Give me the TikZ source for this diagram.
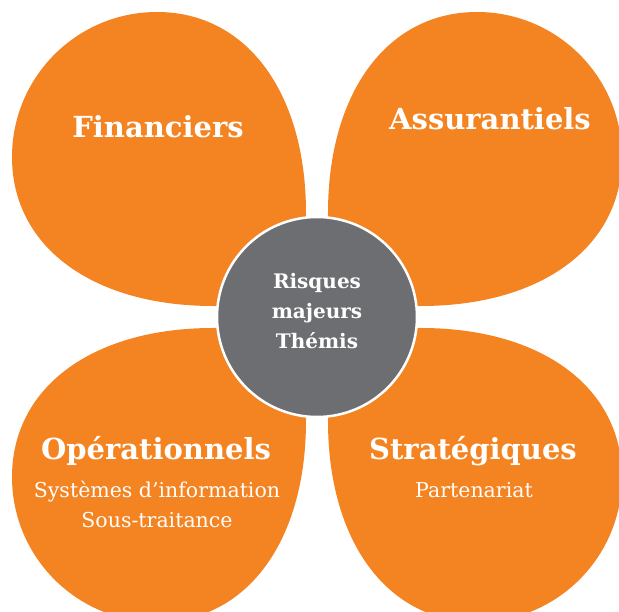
\documentclass[tikz,border=0pt]{standalone}
\usepackage{fontspec}
\setmainfont{DejaVu Serif}
\definecolor{petalorange}{RGB}{244,132,34}
\definecolor{coregray}{RGB}{109,110,113}
\tikzset{
  petal/.style={fill=petalorange},
  core/.style={circle, fill=coregray, draw=white, line width=2.5pt,
               minimum size=200pt, inner sep=0pt},
  title/.style={font=\bfseries\fontsize{29}{34}\selectfont, text=white, anchor=base},
  sub/.style={font=\fontsize{20.5}{30}\selectfont, text=white, anchor=base},
  coretxt/.style={font=\bfseries\fontsize{20}{30}\selectfont, text=white, align=center},
}
\begin{document}
\begin{tikzpicture}[x=1pt, y=1pt]
\useasboundingbox (-317,-295) rectangle (302,317);
\clip (-317,-295) rectangle (302,317);
% Petals (teardrop pointing to the centre, mirrored into the four quarters)
\foreach \sx/\sy in {1/1, -1/1, 1/-1, -1/-1} {
  \fill[petal, xscale=\sx, yscale=\sy]
    (-9,9) -- (-11,104) .. controls (-11,224) and (-70,305) .. (-160,305)
    arc[start angle=90, end angle=180, radius=145]
    .. controls (-305,70) and (-224,11) .. (-104,11) -- cycle;
}
% Centre
\node[core] (core) at (0,0) {};
\node[coretxt] (coretext) at (0,6) {Risques\\majeurs\\Thémis};
% Quarter titles
\node[title] (fin) at (-159,179) {Financiers};
\node[title] (ass) at (173,187) {Assurantiels};
\node[title] (ope) at (-161,-143) {Opérationnels};
\node[title] (str) at (156,-143) {Stratégiques};
% Sub items
\node[sub] (opesys) at (-160,-181) {Systèmes d’information};
\node[sub] (opesst) at (-160,-211) {Sous-traitance};
\node[sub] (strpar) at (157,-181) {Partenariat};
\end{tikzpicture}
\end{document}
